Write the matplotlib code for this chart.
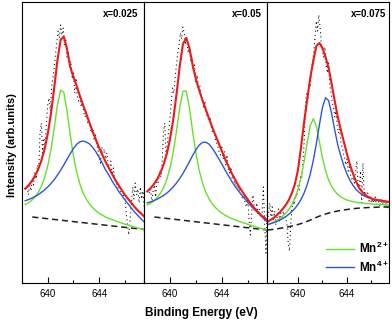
'''
Mn 2p3/2 XPS spectra for x=0.025, 0.05, 0.075 with Mn2+/Mn4+ peak fits.
Intensity in arb. units (read off the figure).
'''

import numpy as np
import matplotlib.pyplot as plt

plt.rcParams['font.family'] = ['Liberation Sans', 'DejaVu Sans']
plt.rcParams['mathtext.fontset'] = 'custom'
plt.rcParams['mathtext.rm'] = 'Liberation Sans'
plt.rcParams['mathtext.bf'] = 'Liberation Sans:bold'

### panel labels
titles = ['x=0.025', 'x=0.05', 'x=0.075']

### fitted curves, energies (eV)
e_fit12 = np.linspace(638.25, 647.5, 38)
e_fit3 = np.linspace(637.5, 647.5, 41)

green1 = [78.5, 80.2, 82.7, 85.9, 90.3, 96.4, 104.9, 117.0, 133.4, 154.6, 177.6, 192.9, 190.5,
          172.0, 148.1, 127.0, 110.8, 98.9, 90.2, 83.8, 78.9, 75.2, 72.2, 69.7, 67.8, 66.0,
          64.6, 63.4, 62.2, 61.0, 60.0, 58.9, 57.8, 56.9, 55.9, 55.0, 54.0, 53.2]
blue1 = [82.3, 83.4, 84.8, 86.4, 88.3, 90.5, 93.0, 96.0, 99.4, 103.3, 107.8, 112.7, 118.1,
         123.8, 129.3, 134.5, 138.7, 141.2, 141.9, 141.0, 139.0, 135.5, 131.0, 125.5, 119.5,
         113.0, 108.0, 102.0, 97.0, 92.0, 87.5, 83.0, 79.0, 75.0, 71.0, 67.5, 64.0, 61.0]
red1 = [94.3, 97.5, 101.7, 106.9, 113.5, 122.2, 133.6, 149.0, 169.2, 194.7, 222.5, 243.1, 246.5,
        234.0, 216.0, 206.0, 197.0, 187.0, 178.0, 169.0, 160.0, 151.0, 143.0, 135.0, 128.0,
        121.0, 115.0, 109.0, 103.0, 98.0, 93.0, 88.0, 84.0, 80.0, 76.0, 72.5, 69.5, 66.5]

green2 = [78.0, 79.7, 82.1, 85.2, 89.4, 95.2, 103.3, 114.8, 130.6, 151.5, 174.8, 191.8, 192.0,
          175.5, 151.6, 130.0, 113.0, 100.4, 91.2, 84.5, 79.4, 75.5, 72.4, 69.9, 67.8, 66.0,
          64.5, 63.2, 62.0, 60.9, 59.8, 58.7, 57.6, 56.6, 55.6, 54.7, 53.8, 53.0]
blue2 = [80.1, 81.1, 82.3, 83.7, 85.5, 87.5, 89.8, 92.7, 96.0, 99.9, 104.4, 109.5, 115.2,
         121.4, 127.5, 133.2, 137.8, 140.5, 140.9, 139.0, 135.0, 130.0, 124.5, 119.0, 113.0,
         107.5, 102.0, 97.0, 92.5, 88.5, 84.5, 80.5, 77.0, 73.5, 70.5, 67.5, 64.0, 61.0]
red2 = [91.6, 94.7, 98.6, 103.5, 109.8, 118.0, 128.8, 143.5, 163.0, 188.2, 216.3, 238.8, 245.1,
        235.1, 217.7, 204.0, 193.0, 183.0, 174.0, 165.0, 156.0, 148.0, 140.0, 132.0, 124.0,
        117.0, 110.0, 104.0, 98.0, 93.0, 88.0, 83.5, 79.0, 75.0, 71.5, 68.0, 65.5, 63.0]

green3 = [58.5, 59.6, 60.9, 62.5, 64.5, 66.8, 69.8, 73.6, 78.5, 84.9, 93.7, 105.7, 121.4, 140.2,
          157.2, 164.2, 156.8, 141.1, 125.1, 112.3, 103.0, 96.4, 91.8, 88.4, 86.1, 84.3, 83.0,
          82.0, 81.3, 80.7, 80.3, 79.9, 79.5, 79.3, 79.0, 78.8, 78.6, 78.5, 78.4, 78.2, 78.0]
blue3 = [58.3, 59.2, 60.3, 61.4, 62.9, 64.5, 66.4, 68.7, 71.4, 74.6, 78.6, 83.6, 90.0, 98.3,
         108.9, 122.6, 139.4, 158.4, 175.8, 185.3, 182.4, 169.2, 153.0, 138.0, 127.0, 117.0,
         109.0, 102.5, 97.5, 93.5, 90.5, 88.2, 86.6, 85.4, 84.3, 83.4, 82.7, 82.0, 81.5, 81.0, 80.6]
red3 = [61, 63, 65, 67.5, 70.5, 74, 78, 83, 90, 99, 113, 136, 161, 183, 205, 222, 237, 240, 235,
        226, 215, 199, 182, 166, 153, 141, 129, 118, 109, 101, 95, 91, 88, 86, 84.5, 83.5, 83,
        82.5, 82, 81.5, 81]

### backgrounds (dashed)
e_bg12 = [638.8, 647.5]
bg1 = [66.0, 53.5]
bg2 = [66.0, 53.0]
bg3 = [53.0, 53.3, 53.7, 54.1, 54.6, 55.1, 55.7, 56.3, 57.0, 57.7, 58.5, 59.4, 60.4, 61.6, 62.9,
       64.3, 65.6, 66.9, 68.0, 69.0, 69.9, 70.7, 71.4, 72.0, 72.6, 73.1, 73.5, 73.9, 74.3, 74.6,
       74.9, 75.1, 75.3, 75.5, 75.6, 75.7, 75.8, 75.9, 76.0, 76.0, 76.0]

### raw spectra
e_raw12 = np.linspace(638.4, 647.5, 92)
e_raw3 = np.linspace(637.5, 647.5, 101)

raw1 = [96, 88, 100, 92, 104, 98, 110, 104, 118, 112,
        150, 160, 130, 145, 138, 160, 178, 185, 172, 195,
        205, 215, 228, 240, 252, 245, 258, 248, 255, 238,
        244, 226, 232, 215, 222, 204, 210, 190, 205, 186,
        182, 188, 176, 180, 170, 166, 172, 160, 164, 156,
        150, 154, 144, 148, 138, 134, 126, 120, 136, 130,
        134, 124, 130, 118, 114, 122, 108, 115, 104, 100,
        98, 94, 96, 90, 92, 86, 84, 70, 58, 48,
        64, 78, 96, 84, 100, 88, 94, 80, 96, 84,
        92, 76]
raw2 = [90, 96, 80, 92, 98, 86, 104, 100, 112, 106,
        120, 150, 160, 128, 140, 152, 165, 180, 195, 190,
        205, 218, 230, 238, 250, 244, 256, 250, 240, 246,
        230, 236, 222, 226, 212, 218, 200, 208, 194, 198,
        186, 184, 176, 182, 170, 166, 162, 166, 156, 150,
        152, 144, 140, 136, 130, 128, 136, 124, 132, 118,
        128, 114, 110, 116, 104, 108, 98, 102, 94, 96,
        90, 88, 84, 86, 80, 76, 84, 62, 48, 70,
        88, 76, 72, 80, 68, 74, 66, 70, 96, 60,
        30, 72]
raw3 = [62, 70, 80, 66, 76, 62, 72, 58, 66, 74,
        62, 70, 64, 72, 66, 66, 58, 40, 32, 56,
        74, 82, 78, 88, 86, 98, 92, 108, 104, 120,
        140, 176, 190, 184, 200, 196, 214, 222, 232, 248,
        262, 252, 268, 256, 240, 232, 226, 236, 218, 210,
        220, 198, 190, 180, 176, 166, 172, 158, 150, 154,
        140, 136, 130, 126, 118, 124, 112, 116, 108, 104,
        106, 100, 110, 122, 100, 96, 112, 80, 120, 90,
        92, 86, 90, 82, 86, 80, 84, 80, 86, 78,
        84, 80, 76, 84, 78, 82, 76, 80, 74, 78,
        76]

panels = [
    dict(e_fit=e_fit12, g=green1, b=blue1, r=red1, e_bg=e_bg12, bg=bg1, e_raw=e_raw12, raw=raw1,
         xlim=(638.44, 647.48), box=(22, 144), tx=0.951),
    dict(e_fit=e_fit12, g=green2, b=blue2, r=red2, e_bg=e_bg12, bg=bg2, e_raw=e_raw12, raw=raw2,
         xlim=(638.37, 647.48), box=(144, 267), tx=0.959),
    dict(e_fit=e_fit3, g=green3, b=blue3, r=red3, e_bg=e_fit3, bg=bg3, e_raw=e_raw3, raw=raw3,
         xlim=(637.47, 647.43), box=(267, 389), tx=0.975),
]

c_red = '#f01818'
c_green = '#66e02a'
c_blue = '#2f55d8'

W, H = 392.0, 321.0
fig = plt.figure(figsize=(W / 100, H / 100), dpi=100)

for i, p in enumerate(panels):
    l, r = p['box']
    ax = fig.add_axes([l / W, 38 / H, (r - l) / W, 281 / H])
    ax.plot(p['e_raw'], p['raw'], color='k', lw=0.75, ls=(0, (1, 3)))
    ax.plot(p['e_bg'], p['bg'], color='#202020', lw=1.1, ls=(0, (4, 2.5)))
    lg, = ax.plot(p['e_fit'], p['g'], color=c_green, lw=1.0)
    lb, = ax.plot(p['e_fit'], p['b'], color=c_blue, lw=1.0)
    ax.plot(p['e_fit'], p['r'], color=c_red, lw=1.5)

    ax.set_xlim(*p['xlim'])
    ax.set_ylim(0, 281)
    ax.set_yticks([])
    ax.set_xticks([640, 644])
    ax.set_xticks([638, 642, 646], minor=True)
    ax.tick_params(axis='x', which='major', direction='in', length=4, width=0.8,
                   labelsize=7, pad=4)
    ax.tick_params(axis='x', which='minor', direction='in', length=2.5, width=0.8)
    for s in ax.spines.values():
        s.set_linewidth(0.8)
    ax.text(p['tx'], 0.975, titles[i], transform=ax.transAxes, ha='right', va='top',
            fontsize=7, fontweight='bold')

    if i == 2:
        ax.legend([lg, lb], [r'Mn$^{\mathbf{2+}}$', r'Mn$^{\mathbf{4+}}$'],
                  loc='lower right', bbox_to_anchor=(0.995, 0.03), frameon=False,
                  borderaxespad=0, borderpad=0, handlelength=2.4, handletextpad=0.4,
                  labelspacing=0.3, prop=dict(size=8.5, weight='bold'))

fig.text(12 / W, 0.548, 'Intensity (arb.units)', rotation=90, ha='center', va='center',
         fontsize=8, fontweight='bold')
fig.text(201 / W, 0.025, 'Binding Energy (eV)', ha='center', va='center',
         fontsize=8.5, fontweight='bold')

fig.savefig('out.png', dpi=100)
